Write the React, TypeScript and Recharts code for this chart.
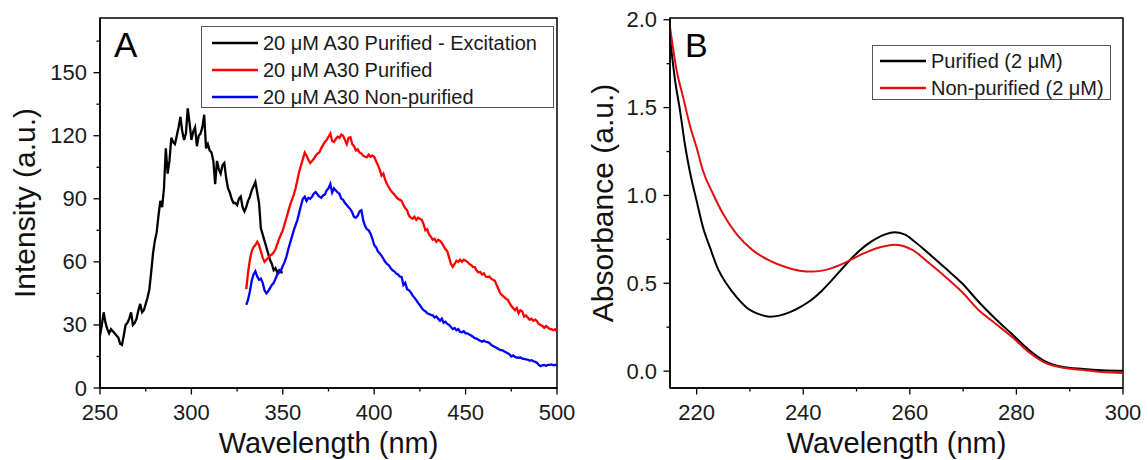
import React from "react";
import { Label, Legend, Line, LineChart, ReferenceArea, XAxis, YAxis } from "recharts";

const FONT = '"Liberation Sans", Arial, Helvetica, sans-serif';

// ---- Panel A: fluorescence spectra (1 nm sampling) ----
const excStartNm = 250;
const excIntensity = [
  25, 30, 36, 31, 28, 26, 28, 27, 26, 25,
  24, 21, 20.5, 25, 30, 31, 33, 36, 30, 31,
  33, 37, 40, 36, 37, 40, 43, 47, 55, 64,
  70, 74, 82, 89, 86, 95, 114, 102, 108, 119,
  117, 116, 120, 124, 129, 122, 118, 121, 133, 126,
  118, 122, 124, 115, 120, 121, 124, 130, 114, 116,
  113, 112, 108, 97, 108, 104, 102, 106, 107, 100,
  95, 93, 90, 88, 88, 87, 90, 91, 86, 84,
  86, 89, 91, 94, 96, 98, 93, 88, 76, 73,
  70, 67, 64, 61, 59, 56, 57, 55, 56, 55,
  55,
];

const emStartNm = 330;
const purIntensity = [
  47, 55, 61, 65, 67, 68, 69.5, 68, 65, 62,
  60, 61, 62, 63, 63.5, 64.5, 66, 68.5, 71, 73,
  75, 78, 81, 84, 87, 89.5, 92, 95, 99, 103,
  106, 109, 112, 110.5, 108.5, 107, 108, 109, 110.5, 111.5,
  112, 114, 115.5, 117, 118, 119.5, 121, 117.5, 117, 118.5,
  119.5, 119, 120.5, 120, 118, 116, 119, 119.3, 116, 115,
  113, 113.5, 112, 111.5, 110.5, 110, 109.8, 111, 110, 110.5,
  110, 108, 106, 104, 101, 102, 99, 97, 95.5, 94,
  93, 92, 91, 90, 89.5, 89, 87, 85.5, 84.5, 82,
  81, 80.5, 81.5, 80, 81, 80.5, 80, 78, 75, 75.5,
  73, 72, 70.5, 71, 69.5, 70.5, 70, 69, 67.5, 66,
  65, 62, 59, 57.6, 59, 60.5, 60, 61, 60, 61,
  60.5, 60, 59, 58.5, 57.6, 57.5, 56, 55, 55.2, 54,
  54.5, 53, 52.8, 53, 52, 51.5, 51, 49, 47, 45,
  44, 43.3, 42.5, 42, 40.5, 39, 38, 37, 38, 35.5,
  37, 36.5, 34, 34.5, 33.5, 32.5, 33, 32, 32.5, 31.8,
  30.5, 30, 29.5, 28.6, 29.5, 28.8, 28, 28, 27.5, 28,
  27,
];
const nonIntensity = [
  39.5, 42, 46, 51, 54, 55.5, 53, 51.5, 52, 50,
  46.5, 45, 46, 47.5, 49, 50, 52, 54, 55, 56,
  58, 60, 62.5, 66, 69, 72, 75, 77.5, 80, 83.5,
  87, 90, 91, 89, 90.5, 90, 91, 92.5, 93.2, 92,
  91, 90.5, 91.6, 92, 94, 95, 97, 93, 95, 94,
  93, 92.4, 90, 89.5, 88, 87, 86, 85, 83.5, 81.3,
  81, 82, 84, 84.5, 79.7, 77, 75.5, 75, 73.4, 71,
  68, 67, 65, 64, 63, 61.5, 60, 59, 58.4, 57,
  56, 55.5, 54.5, 54, 53, 52.8, 49, 50, 47, 46.5,
  45.5, 44, 43, 41.8, 40.5, 39.4, 38, 37, 36.5, 35.5,
  35.2, 34.8, 34.6, 33.5, 34, 33, 32, 33, 31, 31.5,
  30.5, 30, 29, 28, 28.5, 27.5, 28, 26.7, 26.5, 27,
  26, 26, 25.5, 25, 24.4, 23.7, 23.5, 23, 22.5, 22,
  22.5, 22, 21.8, 21.4, 20.5, 20, 19.5, 19, 18.5, 18,
  18, 17.5, 17, 16.5, 16, 15, 15.5, 14.8, 14.5, 14.4,
  14.5, 14, 13.8, 13.6, 13.5, 13, 13.2, 12.8, 12.5, 12,
  11, 10.4, 10.8, 11, 10.5, 11, 11, 11.2, 10.8, 11,
  11,
];

// ---- Panel B: absorbance spectra ----
const absPurNm = [
  215, 215.9, 216.9, 217.8, 218.7, 220, 221.2, 222.5, 224, 225.6,
  227.5, 229.3, 231.8, 233.7, 235.5, 237.5, 239.5, 241.5, 243.5, 245.5,
  247.5, 249.5, 251.5, 253.5, 255.5, 257.1, 259, 261, 263.3, 266.7,
  269.8, 272.9, 276.1, 279.2, 282.3, 285.4, 288.5, 292.6, 296, 300,
];
const absPurVal = [
  1.9, 1.667, 1.479, 1.29, 1.139, 0.969, 0.818, 0.704, 0.582, 0.497,
  0.421, 0.364, 0.323, 0.31, 0.316, 0.336, 0.366, 0.405, 0.458, 0.522,
  0.59, 0.655, 0.71, 0.752, 0.78, 0.79, 0.778, 0.735, 0.676, 0.585,
  0.5, 0.395, 0.297, 0.21, 0.122, 0.056, 0.025, 0.012, 0.005, 0.002,
];
const absNonNm = [
  215, 216.2, 217.5, 218.7, 220, 221.2, 223.1, 225, 227.5, 230.6,
  233.7, 236.8, 239.3, 241.8, 244.9, 248, 251.1, 254.3, 257.1, 260.5,
  263.6, 266.7, 269.8, 272.9, 276.1, 279.2, 282.3, 285.4, 288.5, 292.6,
  296, 300,
];
const absNonVal = [
  1.96, 1.72, 1.554, 1.403, 1.271, 1.139, 1.007, 0.893, 0.78, 0.686,
  0.629, 0.591, 0.572, 0.567, 0.582, 0.619, 0.667, 0.704, 0.72, 0.69,
  0.615, 0.536, 0.45, 0.348, 0.27, 0.194, 0.109, 0.047, 0.021, 0.006,
  -0.005, -0.01,
];

// ---- axes ----
const aXTicks = [250, 275, 300, 325, 350, 375, 400, 425, 450, 475, 500];
const aXMajor = [250, 300, 350, 400, 450, 500];
const aYTicks = [0, 15, 30, 45, 60, 75, 90, 105, 120, 135, 150, 165];
const aYMajor = [0, 30, 60, 90, 120, 150];
const bXTicks = [220, 230, 240, 250, 260, 270, 280, 290, 300];
const bXMajor = [220, 240, 260, 280, 300];
const bYTicks = [0, 0.25, 0.5, 0.75, 1, 1.25, 1.5, 1.75, 2];
const bYMajor = [0, 0.5, 1, 1.5, 2];

const legendA = [
  { name: "20 μM A30 Purified - Excitation", color: "#000000" },
  { name: "20 μM A30 Purified", color: "#ff0000" },
  { name: "20 μM A30 Non-purified", color: "#0000ff" },
];
const legendB = [
  { name: "Purified (2 μM)", color: "#000000" },
  { name: "Non-purified (2 μM)", color: "#e01010" },
];

const onGrid = (start: number, vals: number[]) =>
  vals.map((v, i) => ({ nm: start + i, v }));
const zipPts = (nm: number[], vals: number[]) =>
  nm.map((x, i) => ({ nm: x, v: vals[i] }));

const excData = onGrid(excStartNm, excIntensity);
const purData = onGrid(emStartNm, purIntensity);
const nonData = onGrid(emStartNm, nonIntensity);
const absPurData = zipPts(absPurNm, absPurVal);
const absNonData = zipPts(absNonNm, absNonVal);

const TICK_FS = 22;

// ticks drawn by hand so minor ticks can be shorter and unlabeled
const xTick = (majors: number[], fmt: (v: number) => string) => (p: any) => {
  const v = p.payload.value;
  const major = majors.includes(v);
  return (
    <g>
      <line x1={p.x} x2={p.x} y1={p.y} y2={p.y + (major ? 6.5 : 3.5)} stroke="#000" strokeWidth={1.3} />
      {major && (
        <text x={p.x} y={p.y + 32} textAnchor="middle" fontSize={TICK_FS} fontFamily={FONT} fill="#1a1a1a">
          {fmt(v)}
        </text>
      )}
    </g>
  );
};

const yTick = (majors: number[], fmt: (v: number) => string, gap: number) => (p: any) => {
  const v = p.payload.value;
  const major = majors.includes(v);
  return (
    <g>
      <line x1={p.x} x2={p.x - (major ? 6.5 : 3.5)} y1={p.y} y2={p.y} stroke="#000" strokeWidth={1.3} />
      {major && (
        <text x={p.x - gap} y={p.y + 7.5} textAnchor="end" fontSize={TICK_FS} fontFamily={FONT} fill="#1a1a1a">
          {fmt(v)}
        </text>
      )}
    </g>
  );
};

const xTitle = (text: string) => (p: any) => {
  const vb = p.viewBox || {};
  return (
    <text x={vb.x + vb.width / 2} y={vb.y + 65} textAnchor="middle" fontSize={29} fontFamily={FONT} fill="#111">
      {text}
    </text>
  );
};

const yTitle = (text: string, base: number) => (p: any) => {
  const vb = p.viewBox || {};
  const cx = vb.x + base;
  const cy = vb.y + vb.height / 2;
  return (
    <text x={cx} y={cy} transform={`rotate(-90 ${cx} ${cy})`} textAnchor="middle" fontSize={30} fontFamily={FONT} fill="#111">
      {text}
    </text>
  );
};

const legendBox = (
  items: { name: string; color: string }[],
  w: number,
  h: number,
  lineX: [number, number],
  textX: number,
  rowY: number[]
) => () => (
  <svg width={w} height={h} style={{ display: "block" }}>
    <rect x={0.5} y={0.5} width={w - 1} height={h - 1} fill="#fff" stroke="#555" strokeWidth={1} />
    {items.map((it, i) => (
      <g key={it.name}>
        <line x1={lineX[0]} x2={lineX[1]} y1={rowY[i]} y2={rowY[i]} stroke={it.color} strokeWidth={2.5} />
        <text x={textX} y={rowY[i] + 7} fontSize={20} fontFamily={FONT} fill="#1a1a1a">
          {it.name}
        </text>
      </g>
    ))}
  </svg>
);

const PanelA = () => (
  <LineChart width={580} height={460} margin={{ top: 18, right: 23, bottom: 0, left: 0 }}>
    <XAxis
      dataKey="nm"
      type="number"
      domain={[250, 500]}
      ticks={aXTicks}
      interval={0}
      height={72}
      tickSize={0}
      tickMargin={0}
      tickLine={false}
      tick={xTick(aXMajor, (v) => String(v))}
      axisLine={{ stroke: "#000", strokeWidth: 1.5 }}
      allowDataOverflow
    >
      <Label content={xTitle("Wavelength (nm)")} />
    </XAxis>
    <YAxis
      type="number"
      domain={[0, 176]}
      ticks={aYTicks}
      interval={0}
      width={100}
      tickSize={0}
      tickMargin={0}
      tickLine={false}
      tick={yTick(aYMajor, (v) => String(v), 13)}
      axisLine={{ stroke: "#000", strokeWidth: 1.5 }}
      allowDataOverflow
    >
      <Label content={yTitle("Intensity (a.u.)", 35)} />
    </YAxis>
    <ReferenceArea x1={250} x2={500} y1={0} y2={176} fill="none" stroke="#000" strokeWidth={1.5}>
      <Label value="A" position="insideTopLeft" offset={14} fontSize={35} fontFamily={FONT} fill="#000" />
    </ReferenceArea>
    <Line data={excData} dataKey="v" type="linear" stroke="#000000" strokeWidth={2.3} dot={false} activeDot={false} isAnimationActive={false} />
    <Line data={purData} dataKey="v" type="linear" stroke="#ff0000" strokeWidth={2.3} dot={false} activeDot={false} isAnimationActive={false} />
    <Line data={nonData} dataKey="v" type="linear" stroke="#0000ff" strokeWidth={2.3} dot={false} activeDot={false} isAnimationActive={false} />
    <Legend
      layout="vertical"
      align="center"
      verticalAlign="middle"
      wrapperStyle={{ left: 201, top: 26, width: 353, height: 82 }}
      content={legendBox(legendA, 353, 82, [11, 57], 62, [17, 44, 71])}
    />
  </LineChart>
);

const PanelB = () => (
  <LineChart width={568} height={460} margin={{ top: 18, right: 25, bottom: 0, left: 0 }}>
    <XAxis
      dataKey="nm"
      type="number"
      domain={[215, 300]}
      ticks={bXTicks}
      interval={0}
      height={72}
      tickSize={0}
      tickMargin={0}
      tickLine={false}
      tick={xTick(bXMajor, (v) => String(v))}
      axisLine={{ stroke: "#000", strokeWidth: 1.5 }}
      allowDataOverflow
    >
      <Label content={xTitle("Wavelength (nm)")} />
    </XAxis>
    <YAxis
      type="number"
      domain={[-0.096, 2.01]}
      ticks={bYTicks}
      interval={0}
      width={90}
      tickSize={0}
      tickMargin={0}
      tickLine={false}
      tick={yTick(bYMajor, (v) => v.toFixed(1), 13)}
      axisLine={{ stroke: "#000", strokeWidth: 1.5 }}
      allowDataOverflow
    >
      <Label content={yTitle("Absorbance (a.u.)", 33)} />
    </YAxis>
    <ReferenceArea x1={215} x2={300} y1={-0.096} y2={2.01} fill="none" stroke="#000" strokeWidth={1.5}>
      <Label value="B" position="insideTopLeft" offset={15} fontSize={34} fontFamily={FONT} fill="#000" />
    </ReferenceArea>
    <Line data={absPurData} dataKey="v" type="monotone" stroke="#000000" strokeWidth={2} dot={false} activeDot={false} isAnimationActive={false} />
    <Line data={absNonData} dataKey="v" type="monotone" stroke="#e01010" strokeWidth={2} dot={false} activeDot={false} isAnimationActive={false} />
    <Legend
      layout="vertical"
      align="center"
      verticalAlign="middle"
      wrapperStyle={{ left: 292, top: 45, width: 239, height: 55 }}
      content={legendBox(legendB, 239, 55, [8, 54], 59, [16, 43])}
    />
  </LineChart>
);

export default function App() {
  return (
    <div style={{ position: "absolute", left: 0, top: 0, width: 1148, height: 460, background: "#fff" }}>
      <div style={{ position: "absolute", left: 0, top: 0 }}>
        <PanelA />
      </div>
      <div style={{ position: "absolute", left: 580, top: 0 }}>
        <PanelB />
      </div>
    </div>
  );
}
